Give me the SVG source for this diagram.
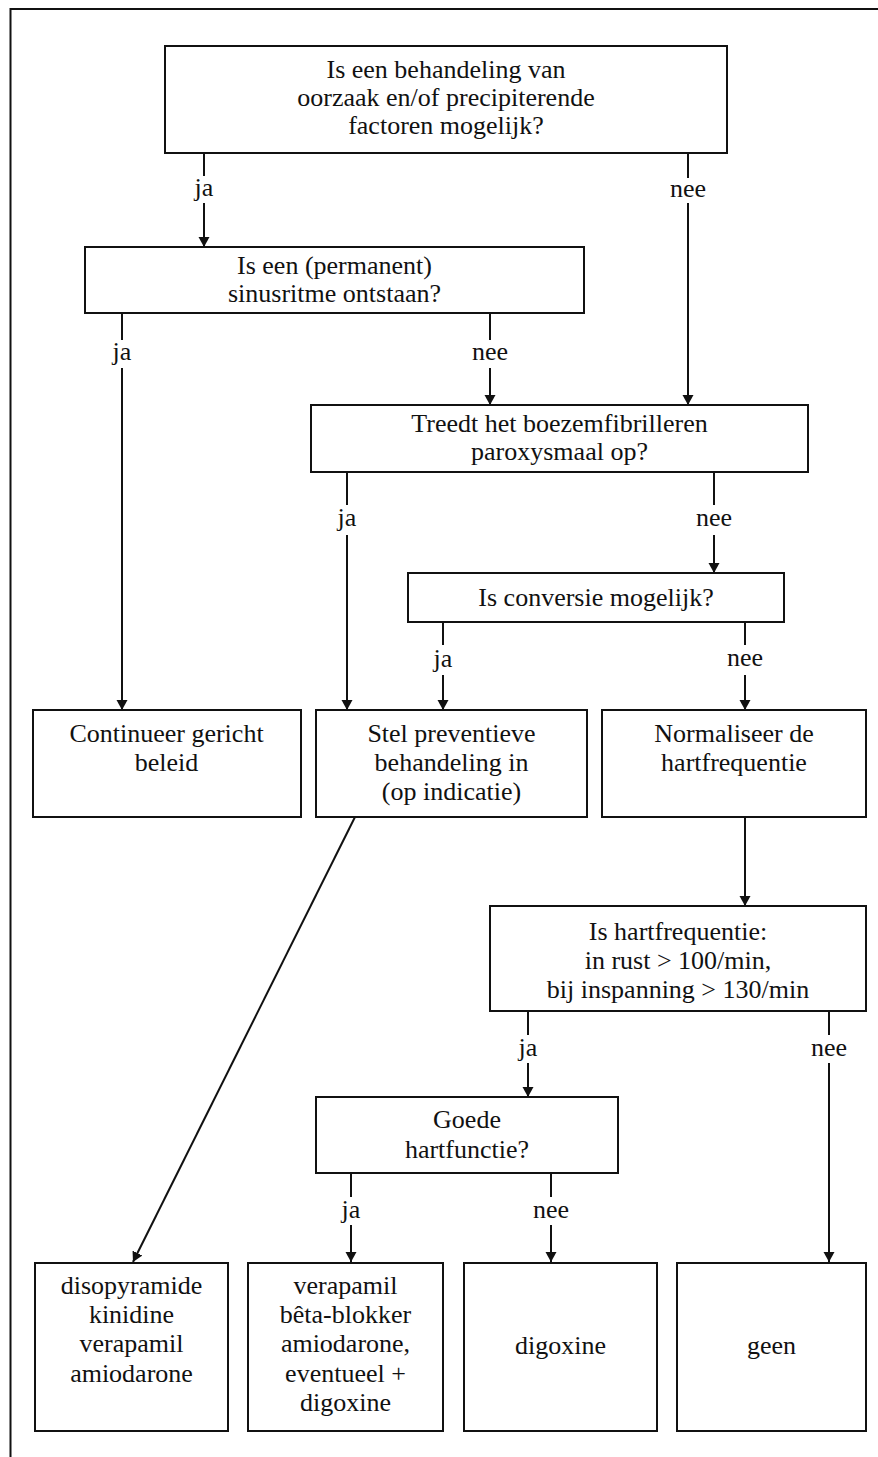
<svg xmlns="http://www.w3.org/2000/svg" width="878" height="1457" viewBox="0 0 878 1457">
<style>
.box{fill:#fff;stroke:#111;stroke-width:2}
.ln{stroke:#111;stroke-width:2;fill:none}
text{font-family:"Liberation Serif","Times New Roman",serif;font-size:26px;fill:#111;text-anchor:middle}
</style>
<defs>
<marker id="ah" viewBox="0 0 10 20" refX="10" refY="10" markerWidth="10" markerHeight="20" markerUnits="userSpaceOnUse" orient="auto">
<path d="M0,4.5 L10,10 L0,15.5 Z" fill="#111"/>
</marker>
</defs>
<rect width="878" height="1457" fill="#fff"/>
<g id="frame"><path class="ln" d="M10.5,1457 V9 H878"/></g>
<g id="connectors">
<path class="ln" d="M204,153 V176"/><path class="ln" d="M204,203 V247" marker-end="url(#ah)"/>
<path class="ln" d="M688,153 V178"/><path class="ln" d="M688,203 V405" marker-end="url(#ah)"/>
<path class="ln" d="M122,313 V340"/><path class="ln" d="M122,368 V710" marker-end="url(#ah)"/>
<path class="ln" d="M490,313 V340"/><path class="ln" d="M490,368 V405" marker-end="url(#ah)"/>
<path class="ln" d="M347,472 V505"/><path class="ln" d="M347,535 V710" marker-end="url(#ah)"/>
<path class="ln" d="M714,472 V505"/><path class="ln" d="M714,535 V573" marker-end="url(#ah)"/>
<path class="ln" d="M443,622 V645"/><path class="ln" d="M443,675 V710" marker-end="url(#ah)"/>
<path class="ln" d="M745,622 V645"/><path class="ln" d="M745,675 V710" marker-end="url(#ah)"/>
<path class="ln" d="M745,817 V906" marker-end="url(#ah)"/>
<path class="ln" d="M528,1011 V1035"/><path class="ln" d="M528,1063 V1097" marker-end="url(#ah)"/>
<path class="ln" d="M829,1011 V1035"/><path class="ln" d="M829,1063 V1262" marker-end="url(#ah)"/>
<path class="ln" d="M351,1173 V1197"/><path class="ln" d="M351,1225 V1262" marker-end="url(#ah)"/>
<path class="ln" d="M551,1173 V1197"/><path class="ln" d="M551,1225 V1262" marker-end="url(#ah)"/>
<path class="ln" d="M355,817 L133,1262" marker-end="url(#ah)"/>
<text x="204" y="196">ja</text>
<text x="688" y="197">nee</text>
<text x="122" y="360">ja</text>
<text x="490" y="360">nee</text>
<text x="347" y="526">ja</text>
<text x="714" y="526">nee</text>
<text x="443" y="667">ja</text>
<text x="745" y="666">nee</text>
<text x="528" y="1056">ja</text>
<text x="829" y="1056">nee</text>
<text x="351" y="1218">ja</text>
<text x="551" y="1218">nee</text>
</g>
<g id="n1"><rect class="box" x="165" y="46" width="562" height="107"/>
<text x="446" y="78">Is een behandeling van</text><text x="446" y="106">oorzaak en/of precipiterende</text><text x="446" y="134">factoren mogelijk?</text></g>
<g id="n2"><rect class="box" x="85" y="247" width="499" height="66"/>
<text x="334.5" y="274">Is een (permanent)</text><text x="334.5" y="302">sinusritme ontstaan?</text></g>
<g id="n3"><rect class="box" x="311" y="405" width="497" height="67"/>
<text x="559.5" y="432">Treedt het boezemfibrilleren</text><text x="559.5" y="460">paroxysmaal op?</text></g>
<g id="n4"><rect class="box" x="408" y="573" width="376" height="49"/>
<text x="596" y="606">Is conversie mogelijk?</text></g>
<g id="n5"><rect class="box" x="33" y="710" width="268" height="107"/>
<text x="166.5" y="742">Continueer gericht</text><text x="166.5" y="771">beleid</text></g>
<g id="n6"><rect class="box" x="316" y="710" width="271" height="107"/>
<text x="451.5" y="742">Stel preventieve</text><text x="451.5" y="771">behandeling in</text><text x="451.5" y="800">(op indicatie)</text></g>
<g id="n7"><rect class="box" x="602" y="710" width="264" height="107"/>
<text x="734" y="742">Normaliseer de</text><text x="734" y="771">hartfrequentie</text></g>
<g id="n8"><rect class="box" x="490" y="906" width="376" height="105"/>
<text x="678" y="940">Is hartfrequentie:</text><text x="678" y="969">in rust &gt; 100/min,</text><text x="678" y="998">bij inspanning &gt; 130/min</text></g>
<g id="n9"><rect class="box" x="316" y="1097" width="302" height="76"/>
<text x="467" y="1128">Goede</text><text x="467" y="1158">hartfunctie?</text></g>
<g id="n10"><rect class="box" x="35" y="1263" width="193" height="168"/>
<text x="131.5" y="1294">disopyramide</text><text x="131.5" y="1323">kinidine</text><text x="131.5" y="1352">verapamil</text><text x="131.5" y="1382">amiodarone</text></g>
<g id="n11"><rect class="box" x="248" y="1263" width="195" height="168"/>
<text x="345.5" y="1294">verapamil</text><text x="345.5" y="1323">bêta-blokker</text><text x="345.5" y="1352">amiodarone,</text><text x="345.5" y="1382">eventueel +</text><text x="345.5" y="1411">digoxine</text></g>
<g id="n12"><rect class="box" x="464" y="1263" width="193" height="168"/>
<text x="560.5" y="1354">digoxine</text></g>
<g id="n13"><rect class="box" x="677" y="1263" width="189" height="168"/>
<text x="771.5" y="1354">geen</text></g>
</svg>
